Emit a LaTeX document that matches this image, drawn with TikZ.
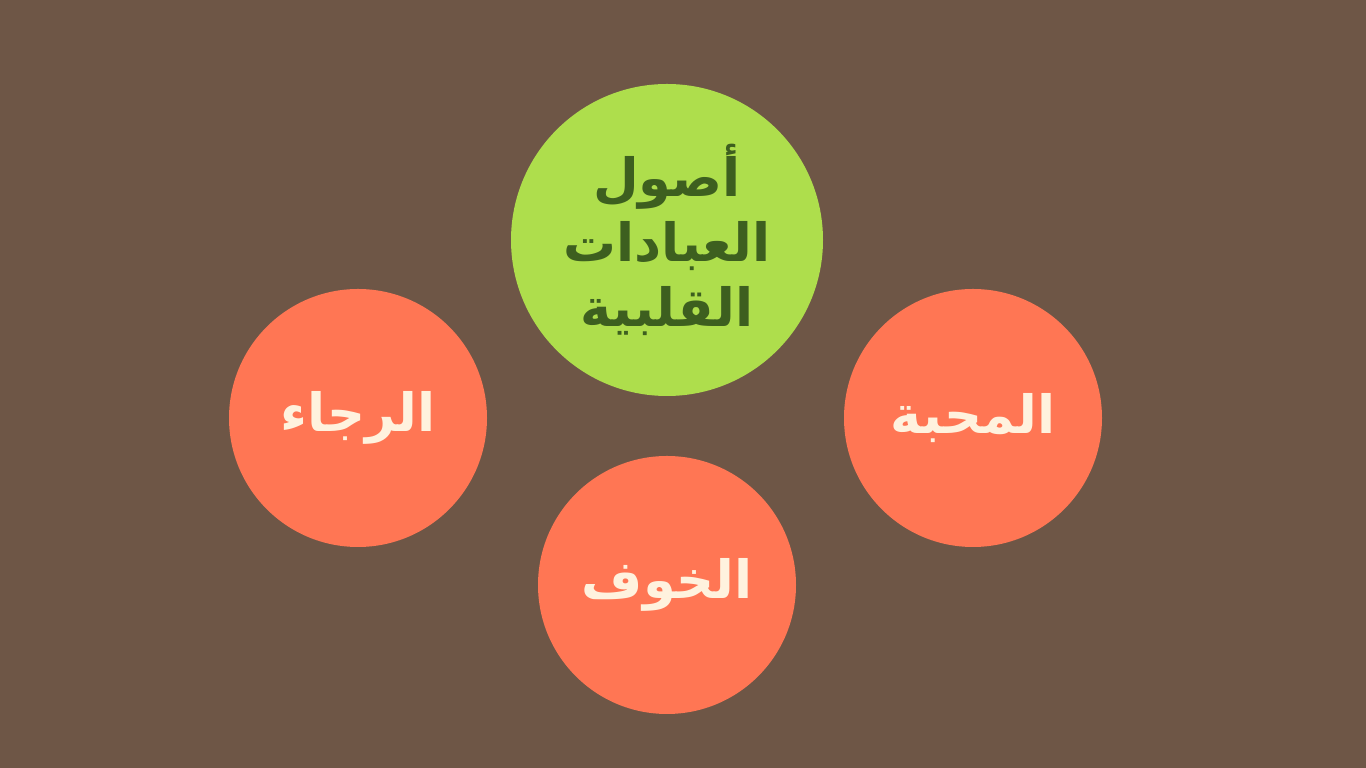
\documentclass[tikz,border=0pt]{standalone}
\usepackage{fontspec}
\usepackage{xcolor}
\newfontfamily\arabicfont[Script=Arabic]{DejaVu Sans}
\TeXXeTstate=1
\definecolor{bgbrown}{HTML}{6E5646}
\definecolor{leafgreen}{HTML}{AEDE4C}
\definecolor{darkleaf}{HTML}{3D5F1F}
\definecolor{coral}{HTML}{FF7654}
\definecolor{cream}{HTML}{FFF2DE}
\usetikzlibrary{positioning}

\begin{document}
\begin{tikzpicture}[
    font=\arabicfont\bfseries,
    core/.style={circle, fill=leafgreen, text=darkleaf, minimum size=6.24cm, inner sep=0pt, align=center, font=\arabicfont\bfseries\fontsize{30}{37}\selectfont},
    pillar/.style={circle, fill=coral, text=cream, minimum size=5.16cm, inner sep=0pt, font=\arabicfont\bfseries\fontsize{30}{37}\selectfont}
]
% Background
\fill[bgbrown] (0,0) rectangle (27.32,15.36);
\useasboundingbox (0,0) rectangle (27.32,15.36);

% Nodes
\node[core] (roots) at (13.34,10.56) {\beginR أصول\endR\\ \beginR العبادات\endR\\ \beginR القلبية\endR};
\node[pillar] (hope) at (7.16,7.0) {\beginR الرجاء\endR};
\node[pillar] (love) at (19.46,7.0) {\beginR المحبة\endR};
\node[pillar] (fear) at (13.34,3.66) {\beginR الخوف\endR};
\end{tikzpicture}
\end{document}
